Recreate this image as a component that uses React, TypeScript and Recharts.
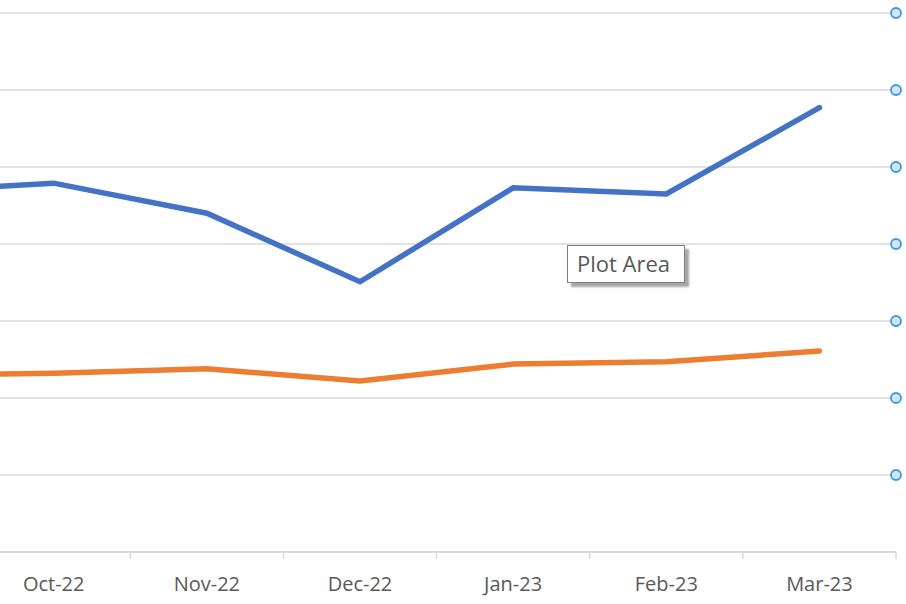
import { CartesianGrid, Line, LineChart, XAxis, YAxis } from 'recharts';

const months = ['Sep-22', 'Oct-22', 'Nov-22', 'Dec-22', 'Jan-23', 'Feb-23', 'Mar-23'];
const seriesA = [46.8, 47.9, 44.0, 35.1, 47.3, 46.5, 57.7];
const seriesB = [23.0, 23.2, 23.8, 22.2, 24.4, 24.7, 26.1];
const yTicks = [10, 20, 30, 40, 50, 60, 70];

const data = months.map((month, i) => ({ month, a: seriesA[i], b: seriesB[i] }));

const CHART_W = 1082;
const CHART_H = 604;
const AXIS_H = 52;
const SHIFT = -176; // the picture is cropped: the first month sits left of the frame
const MARGIN = { top: 13, right: 10, bottom: 0, left: 0 };
const BAND = (CHART_W - MARGIN.left - MARGIN.right) / months.length;
const PLOT_BOTTOM = CHART_H - AXIS_H - MARGIN.bottom;

const FONT = '"Open Sans", "Noto Sans", sans-serif';

function MonthTick(props: any) {
  const { x, y, payload } = props;
  const visible = x + SHIFT > 0;
  return (
    <g>
      <line x1={x + BAND / 2} x2={x + BAND / 2} y1={y - 8} y2={y - 1} stroke="#d9d9d9" strokeWidth={1.5} />
      {visible && (
        <text x={x} y={y + 31} textAnchor="middle" fill="#595959" fontSize={20} fontFamily={FONT}>
          {payload.value}
        </text>
      )}
    </g>
  );
}

function GridLine(props: any) {
  const { x1, x2, y1, y2 } = props;
  const showHandle = y2 < PLOT_BOTTOM - 2;
  return (
    <g>
      <line x1={x1} x2={x2} y1={y1} y2={y2} stroke="#d9d9d9" strokeWidth={1.5} />
      {showHandle && <circle cx={x2} cy={y2} r={5} fill="#cfe6f8" stroke="#3f97de" strokeWidth={1.8} />}
    </g>
  );
}

export default function App() {
  return (
    <div
      style={{
        position: 'absolute',
        left: 0,
        top: 0,
        width: 906,
        height: 604,
        overflow: 'hidden',
        background: '#ffffff',
      }}
    >
      <div style={{ position: 'absolute', left: SHIFT, top: 0 }}>
        <LineChart width={CHART_W} height={CHART_H} data={data} margin={MARGIN}>
          <CartesianGrid vertical={false} horizontal={GridLine} />
          <XAxis
            dataKey="month"
            height={AXIS_H}
            padding={{ left: BAND / 2, right: BAND / 2 }}
            tickLine={false}
            axisLine={{ stroke: '#d9d9d9', strokeWidth: 1.5 }}
            tick={<MonthTick />}
            interval={0}
          />
          <YAxis hide domain={[0, 70]} ticks={yTicks} />
          <Line dataKey="a" stroke="#4472c4" strokeWidth={5.5} dot={false} isAnimationActive={false} strokeLinecap="round" />
          <Line dataKey="b" stroke="#ed7d31" strokeWidth={5.5} dot={false} isAnimationActive={false} strokeLinecap="round" />
        </LineChart>
      </div>
      <div
        style={{
          position: 'absolute',
          left: 567,
          top: 245,
          width: 118,
          height: 38,
          border: '1.5px solid #808080',
          background: '#ffffff',
          boxShadow: '4px 4px 2px rgba(0,0,0,0.35)',
          fontFamily: FONT,
          fontSize: 22,
          color: '#595959',
          lineHeight: '35px',
          paddingLeft: 9,
          boxSizing: 'border-box',
          whiteSpace: 'nowrap',
        }}
      >
        Plot Area
      </div>
    </div>
  );
}
